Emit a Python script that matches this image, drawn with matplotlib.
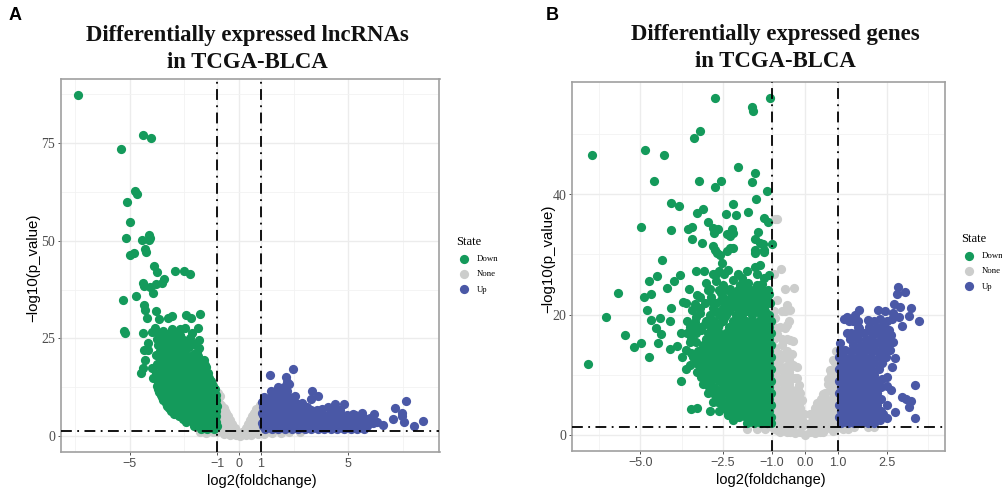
import matplotlib
matplotlib.use("Agg")
import matplotlib.pyplot as plt
from matplotlib.ticker import FixedLocator

GREEN, GREY, BLUE = "#149a5b", "#cccdcc", "#4a58a6"
state_labels = ["Down", "None", "Up"]

# ---------- Panel A: lncRNAs ----------
lnc_down_outliers = [(-7.35,87.2),(-4.37,77.0),(-4.02,76.3),(-5.37,73.4),(-4.73,62.7),(-4.67,61.9),(-5.1,59.9),(-4.98,54.9),
 (-5.16,50.8),(-4.1,51.4),(-4.44,50.2),(-4.13,50.2),(-4.07,50.8),(-4.28,48.0),(-5.0,46.3),(-4.78,46.8),(-4.26,47.2),
 (-3.88,43.6),(-3.76,41.9),(-2.92,42.2),(-2.5,42.2),(-2.22,41.6),(-3.41,40.3),(-3.5,39.1),(-3.81,38.9),(-4.37,39.1),
 (-4.32,38.4),(-4.06,38.2),(-3.94,36.7),(-4.69,35.9),(-5.28,34.9),(-4.32,33.5),(-4.31,32.2),(-3.77,32.1),(-4.2,30.1),
 (-3.65,29.9),(-3.23,30.1),(-3.04,30.8),(-2.42,30.9),(-2.18,30.2),(-1.8,31.3),(-5.27,27.0),(-5.2,26.4),(-1.86,27.6),
 (-2.45,27.6),(-2.69,27.3),(-3.04,27.3),(-3.46,26.9),(-3.84,27.6),(-3.96,26.7),(-4.38,26.3),(-1.81,24.6),(-2.62,24.1),
 (-3.04,24.6),(-4.17,23.7),(-1.83,22.4),(-1.92,21.6),(-2.47,22.0),(-4.35,22.0),(-4.14,22.0),(-4.31,19.4),(-1.61,19.5),
 (-2.19,19.9),(-4.37,17.3),(-4.49,16.1),(-3.96,17.3),(-3.93,14.8)]
lnc_down_fill = [(-2.4,20.8),(-2.05,21.0),(-2.3,22.8),(-2.05,23.6),(-2.25,25.2),(-2.15,26.4),(-2.7,25.9),(-3.05,22.6),(-3.4,23.6),(-2.4,24.4),
 (-2.1,18.6),(-1.9,17.0),(-2.35,17.8),(-3.6,19.5),(-3.8,20.8),(-3.75,18.4),(-3.8,16.0),(-3.45,21.0),(-2.65,22.8),(-3.3,25.6),(-2.0,19.8)]
lnc_down_rows = {
 1.7:[-1.75,-1.45,-1.15], 2.5:[-2.05,-1.8,-1.5,-1.2,-1.02], 3.6:[-2.4,-2.1,-1.8,-1.5,-1.2,-1.03],
 4.3:[-2.55,-2.25,-1.95,-1.65,-1.35,-1.1], 5.0:[-2.75,-2.45,-2.15,-1.85,-1.55,-1.25,-1.03],
 5.7:[-2.95,-2.6,-2.3,-2.0,-1.7,-1.4,-1.15], 6.4:[-3.1,-2.8,-2.5,-2.2,-1.9,-1.6,-1.3,-1.05],
 7.1:[-3.2,-2.9,-2.6,-2.3,-2.0,-1.7,-1.4,-1.1], 7.8:[-3.3,-3.0,-2.7,-2.4,-2.1,-1.8,-1.5,-1.2,-1.02],
 8.5:[-3.35,-3.05,-2.8,-2.5,-2.2,-1.9,-1.6,-1.3,-1.08], 9.2:[-3.45,-3.15,-2.85,-2.55,-2.25,-1.95,-1.65,-1.35,-1.05],
 9.9:[-3.5,-3.2,-2.95,-2.65,-2.35,-2.05,-1.75,-1.45,-1.15], 10.6:[-3.55,-3.3,-3.0,-2.7,-2.4,-2.1,-1.8,-1.5,-1.2,-1.03],
 11.3:[-3.65,-3.35,-3.05,-2.75,-2.45,-2.15,-1.85,-1.55,-1.25], 12.0:[-3.7,-3.4,-3.1,-2.8,-2.5,-2.2,-1.9,-1.6,-1.3,-1.1],
 12.7:[-3.75,-3.5,-3.2,-2.95,-2.65,-2.35,-2.05,-1.8,-1.5,-1.2], 13.4:[-3.7,-3.45,-3.15,-2.85,-2.6,-2.3,-2.0,-1.7,-1.4,-1.25],
 14.1:[-3.65,-3.35,-3.05,-2.75,-2.5,-2.2,-1.9,-1.6,-1.3], 14.8:[-3.6,-3.3,-3.0,-2.7,-2.4,-2.15,-1.8,-1.5,-1.35],
 15.5:[-3.55,-3.25,-2.95,-2.65,-2.35,-2.05,-1.7,-1.45], 16.2:[-3.5,-3.2,-2.95,-2.6,-2.3,-1.95,-1.6,-1.4],
 16.9:[-3.4,-3.1,-2.8,-2.5,-2.2,-1.85], 17.6:[-3.55,-3.2,-2.9,-2.65,-2.1,-1.75,-1.5],
 18.3:[-3.45,-3.15,-2.75,-2.25,-1.9,-1.55], 19.0:[-3.4,-3.1,-2.8,-2.4,-2.05,-1.65],
 20.4:[-3.5,-3.25,-2.95,-2.6,-2.2,-1.85], 21.8:[-3.6,-3.3,-3.0,-2.7],
 23.2:[-3.7,-3.4,-3.1,-2.85,-2.55], 24.8:[-3.75,-3.5,-3.2,-2.95,-2.6], 26.0:[-3.65,-3.3,-2.9]}
lnc_none = [(-0.94,11.0),(-0.85,10.2),(-0.9,8.5),(-0.7,7.2),(-0.85,7.0),(-0.6,6.0),(-0.85,5.5),(-0.5,5.0),(-0.75,4.5),(-0.4,4.0),
 (-0.6,3.5),(-0.85,3.2),(-0.3,3.0),(-0.5,2.5),(-0.75,2.2),(-0.2,2.0),(-0.35,1.6),(-0.6,1.4),(-0.9,1.3),(-1.2,1.0),(-1.5,0.8),(-1.8,1.0),
 (-1.0,0.9),(-0.7,0.5),(-0.4,0.3),(-0.15,0.2),(0.05,0.1),(0.3,0.2),(0.55,0.3),(0.85,0.5),(1.15,0.6),(1.5,0.7),(1.9,0.8),(2.3,0.9),(2.8,0.9),
 (0.15,1.0),(0.3,2.0),(0.4,3.0),(0.5,4.0),(0.6,5.0),(0.7,6.0),(0.8,7.0),(0.95,8.0),(0.55,2.5),(0.75,3.5),(0.9,5.0),(0.9,6.5),(0.8,2.0),(0.95,3.0),(0.6,1.4),(0.95,1.5),
 (-0.1,0.8),(0.1,0.6),(-0.3,0.9),(0.35,0.8),(0.65,0.9),(-0.65,6.5),(-0.8,8.0),(-0.55,4.5),(0.7,4.5),(0.85,4.0)]
lnc_up_outliers = [(1.43,15.6),(2.15,15.1),(2.48,17.2),(2.2,13.7),(2.3,13.4),(3.32,11.5),(3.62,10.2),(3.27,9.4),(2.56,10.2),(2.9,8.5),
 (3.8,7.0),(4.08,7.5),(4.38,8.2),(4.81,8.2),(4.61,6.7),(5.19,5.6),(5.63,5.8),(6.16,5.6),(6.56,2.8),(6.29,3.7),(7.61,9.0),(7.15,7.2),
 (7.43,5.8),(7.46,5.2),(7.05,4.4),(7.53,3.5),(8.39,3.9),(7.99,2.5)]
lnc_up_rows = {
 1.8:[1.2,1.5,1.8,2.1,2.4,2.7,3.0,3.3,3.6,3.9,4.2,4.5,4.8,5.1,5.4,5.7],
 2.5:[1.1,1.4,1.7,2.0,2.3,2.6,2.9,3.2,3.5,3.8,4.1,4.4,4.7,5.0,5.3,5.6,5.85],
 3.2:[1.05,1.35,1.65,1.95,2.25,2.55,2.85,3.15,3.45,3.75,4.05,4.35,4.65,4.95,5.25,5.55,5.85,6.1],
 3.9:[1.2,1.5,1.8,2.1,2.4,2.7,3.0,3.3,3.6,3.9,4.2,4.5,4.8,5.1,5.4,5.7,6.0],
 4.6:[1.2,1.5,1.8,2.1,2.4,2.7,3.0,3.3,3.6,3.9,4.2,4.5,4.8,5.1,5.4,5.7,6.0],
 5.3:[1.1,1.4,1.7,2.0,2.3,2.6,2.9,3.2,3.5,3.8,4.1,4.35,4.65,4.95,5.3],
 6.0:[1.05,1.35,1.65,1.95,2.25,2.55,2.85,3.15,3.45,4.15,4.4],
 6.7:[1.2,1.5,1.8,2.1,2.4,2.7,3.0,3.3,3.55,4.25,4.5],
 7.4:[1.1,1.4,1.7,2.0,2.3,2.6,2.9,3.1],
 8.1:[1.2,1.5,1.8,2.1,2.4,2.7],
 8.8:[1.05,1.35,1.65,1.95,2.25,2.5],
 10.0:[1.15,1.45,1.75,2.05,2.3],
 11.4:[1.45,1.7,1.95,2.2],
 12.6:[1.8,2.05]}

# ---------- Panel B: genes ----------
gene_down_outliers = [(-2.72,56.0),(-1.05,56.0),(-1.62,54.5),(-1.58,53.9),(-3.19,50.6),(-3.36,49.4),(-4.87,47.4),(-6.47,46.6),(-4.29,46.5),
 (-2.04,44.6),(-1.52,43.5),(-4.58,42.2),(-3.21,42.2),(-2.54,42.2),(-2.74,41.3),(-1.62,42.1),(-1.14,40.5),(-1.5,39.2),(-4.06,38.6),
 (-3.83,38.1),(-2.18,38.4),(-3.09,37.6),(-3.29,36.9),(-2.39,36.8),(-2.1,36.5),(-1.73,37.1),(-1.24,36.0),(-1.11,35.4),(-4.99,34.6),
 (-4.06,34.1),(-3.55,34.3),(-3.43,34.6),(-2.96,35.4),(-2.79,34.4),(-2.65,34.3),(-2.76,33.5),(-2.23,34.3),(-2.38,33.4),(-2.2,33.5),
 (-2.27,33.0),(-1.42,33.8),(-3.43,32.6),(-3.14,31.9),(-2.79,31.4),(-1.53,32.6),(-1.37,31.9),(-1.27,31.7),(-1.01,31.8),(-2.28,31.0),
 (-2.2,31.1),(-2.74,30.7),(-1.52,30.7),(-1.25,30.8),(-2.68,30.2),(-2.58,29.9),(-2.36,30.6),(-2.53,28.6),(-4.34,29.0),(-1.52,30.3),(-1.25,30.4),
 (-1.52,27.9),(-1.37,28.2),(-1.77,27.2),(-2.33,27.4),(-2.46,26.7),(-2.79,26.8),(-2.71,26.8),(-3.06,27.2),(-3.31,27.2),(-3.79,26.6),
 (-4.51,26.4),(-4.74,25.6),(-3.97,25.6),(-4.2,24.4),(-3.53,24.3),(-5.67,23.6),(-4.9,22.9),(-4.67,23.5),(-1.92,26.1),(-1.47,26.7),(-1.08,26.6),
 (-3.27,23.2),(-2.89,24.3),(-2.48,24.9),(-2.28,24.3),(-1.98,24.9),(-1.72,25.3),(-1.47,24.9),(-1.11,24.1),(-1.17,22.7),(-3.7,22.1),(-3.62,21.9),
 (-4.06,21.1),(-4.79,20.8),(-3.44,20.7),(-6.05,19.6),(-4.4,19.5),(-4.69,19.1),(-4.09,18.9),(-4.52,17.7),(-4.39,16.7),(-5.47,16.6),(-4.97,15.3),
 (-4.46,15.2),(-5.2,14.6),(-4.09,14.3),(-3.88,14.7),(-4.74,12.9),(-6.59,11.7),(-3.78,8.9),(-3.47,4.2),(-3.29,4.4),(-2.89,3.9),(-3.78,16.9),
 (-3.6,18.9),(-3.34,18.8),(-3.19,20.2),(-3.75,12.9),(-3.62,14.1),(-3.62,11.0),(-3.49,11.6),(-3.29,10.4),(-3.09,8.5),(-2.91,7.9),(-2.79,5.4),
 (-2.74,6.6),(-2.48,4.6),(-2.33,3.2),(-2.18,2.4)]
gene_down_fill = [(-2.95,9.5),(-2.75,9.5),(-3.05,10.5),(-2.85,10.5),(-2.65,10.5),(-3.15,11.5),(-2.95,11.5),(-2.75,11.5),(-3.2,12.5),(-2.85,12.5),(-2.65,12.5),
 (-3.25,13.5),(-2.95,13.5),(-2.75,13.5),(-3.1,14.5),(-2.85,14.5),(-2.65,14.5),(-3.3,15.5),(-2.95,15.5),(-2.75,15.5),(-2.85,16.5),(-2.65,16.5),(-3.15,17.5),(-2.8,17.5),
 (-2.6,18.5),(-2.85,19.0),(-2.45,19.5),(-2.7,20.5),(-2.3,20.5),(-2.0,20.5),(-1.75,20.5),(-1.45,20.5),(-1.2,20.5),(-2.4,21.5),(-2.1,21.5),(-1.9,21.5),(-1.6,21.5),(-1.35,21.5),
 (-2.55,22.5),(-2.3,22.5),(-2.0,22.5),(-1.75,22.5),(-1.45,22.5),(-1.2,22.5),(-2.1,23.5),(-1.85,23.5),(-1.6,23.5),(-1.35,23.5),(-1.1,23.5),(-2.7,7.5),(-2.55,7.5),(-2.6,6.5),
 (-2.65,5.5),(-2.5,4.5),(-2.35,3.5),(-3.0,25.2),(-2.7,25.5),(-2.2,25.8),(-2.05,26.7),(-1.7,24.2),(-1.85,24.8),(-2.55,23.6),(-2.85,22.2),(-3.35,21.8),(-3.45,18.0),(-3.3,17.4),
 (-3.5,15.5),(-3.45,13.6),(-3.35,12.8),(-3.2,11.0),(-3.45,16.9),(-3.15,9.6),(-3.0,8.6),(-1.25,26.0),(-1.3,25.0),(-2.95,6.9),(-2.6,3.9),(-3.3,19.6),(-3.05,18.5),(-2.6,27.3)]
gene_down_rows = {
 2:[-1.75,-1.55,-1.35,-1.15,-1.02], 3:[-2.2,-2.0,-1.8,-1.6,-1.4,-1.2,-1.03], 4:[-2.35,-2.12,-1.92,-1.7,-1.5,-1.3,-1.1],
 5:[-2.4,-2.2,-2.0,-1.8,-1.6,-1.4,-1.2,-1.03], 6:[-2.55,-2.3,-2.1,-1.9,-1.7,-1.5,-1.3,-1.1],
 7:[-2.7,-2.4,-2.2,-2.0,-1.8,-1.6,-1.4,-1.2,-1.03], 8:[-2.75,-2.5,-2.3,-2.1,-1.9,-1.7,-1.5,-1.3,-1.1],
 9:[-2.9,-2.62,-2.4,-2.2,-2.0,-1.8,-1.6,-1.4,-1.2,-1.03], 10:[-3.0,-2.75,-2.5,-2.3,-2.1,-1.9,-1.7,-1.5,-1.3,-1.1],
 11:[-3.1,-2.85,-2.6,-2.4,-2.2,-2.0,-1.8,-1.6,-1.4,-1.2,-1.03], 12:[-3.3,-3.0,-2.7,-2.5,-2.3,-2.1,-1.9,-1.7,-1.5,-1.3,-1.1],
 13:[-3.4,-3.1,-2.85,-2.6,-2.4,-2.2,-2.0,-1.8,-1.6,-1.4,-1.2,-1.03], 14:[-3.25,-2.95,-2.7,-2.5,-2.3,-2.1,-1.9,-1.7,-1.5,-1.3,-1.1],
 15:[-3.1,-2.85,-2.6,-2.4,-2.2,-2.0,-1.8,-1.6,-1.4,-1.2,-1.03], 16:[-3.45,-3.0,-2.7,-2.5,-2.3,-2.1,-1.9,-1.7,-1.5,-1.3,-1.1],
 17:[-3.6,-3.3,-2.95,-2.6,-2.4,-2.2,-2.0,-1.8,-1.6,-1.4,-1.2,-1.03], 18:[-3.5,-3.15,-2.85,-2.65,-2.3,-2.1,-1.9,-1.7,-1.5,-1.3,-1.1],
 19:[-3.0,-2.75,-2.5,-2.2,-2.0,-1.8,-1.6,-1.4,-1.2,-1.03], 20:[-2.9,-2.6,-2.4,-2.1,-1.9,-1.6,-1.35,-1.1],
 21:[-3.2,-2.8,-2.5,-2.25,-2.0,-1.75,-1.5,-1.25], 22:[-3.05,-2.7,-2.4,-2.15,-1.85,-1.6,-1.3,-1.05],
 23:[-3.2,-2.85,-2.5,-2.25,-1.95,-1.7,-1.4,-1.15], 24:[-2.95,-2.6,-2.35,-2.05,-1.55,-1.3]}
gene_none = [(-0.91,35.9),(-0.86,35.9),(-0.94,26.7),(-0.74,27.6),(-0.61,24.2),(-0.33,24.4),(-0.86,22.4),(-0.54,21.6),(-0.46,20.8),(-0.86,16.8),
 (-0.61,17.7),(-0.46,15.7),(-0.35,15.6),(-0.56,14.0),(-0.35,11.6),(-0.25,11.3),(-0.18,8.3),(-0.1,5.7),(-0.03,3.5),(-0.48,18.9),(-0.55,18.2),
 (-0.9,19.5),(-0.9,14.5),(-0.7,15.0),(-0.9,12.5),(-0.7,12.8),(-0.5,12.5),(-0.9,10.5),(-0.7,10.8),(-0.5,10.5),(-0.3,9.5),(-0.9,8.5),(-0.7,8.8),(-0.5,8.5),
 (-0.9,6.5),(-0.7,6.5),(-0.5,6.5),(-0.3,6.5),(-0.15,7.0),(-0.9,4.5),(-0.7,4.5),(-0.5,4.5),(-0.3,4.5),(-0.15,4.5),(-0.9,2.8),(-0.7,2.8),(-0.5,2.8),(-0.3,2.8),
 (-0.1,2.5),(-1.1,1.4),(-0.85,1.4),(-0.6,1.4),(-0.35,1.4),(-0.1,1.4),(-0.85,0.8),(-0.55,0.5),(-0.3,0.3),(0.0,0.0),(0.3,0.2),(0.55,0.4),(0.85,0.6),(1.15,1.0),
 (1.5,1.2),(1.9,1.2),(2.1,1.2),(-1.75,1.0),(0.94,14.0),(0.86,12.4),(0.76,10.7),(0.71,9.3),(0.56,6.8),(0.35,5.2),(0.15,3.5),(0.05,1.8),(0.95,11.0),(0.85,9.0),
 (0.95,8.0),(0.75,7.5),(0.95,6.0),(0.75,5.5),(0.55,5.0),(0.95,4.0),(0.75,3.8),(0.55,3.5),(0.35,3.4),(0.95,2.5),(0.75,2.2),(0.55,2.0),(0.3,2.0),(0.95,1.2),(0.7,1.2),(0.45,1.2),(0.2,1.1)]
gene_none_rows = {
 0.4:[-0.75,-0.45,-0.15,0.15,0.45], 0.9:[-1.45,-1.2,-0.95,-0.65,-0.4,0.3,0.6,0.9,1.3], 2.0:[-0.95,-0.75,-0.55,-0.35,-0.15,0.15,0.45,0.65,0.85],
 3.0:[0.25,0.45,0.65,0.85], 3.6:[-0.95,-0.75,-0.55,-0.35,-0.12], 4.5:[0.3,0.45,0.65,0.85], 5.5:[-0.95,-0.75,-0.55,-0.35,-0.15], 6.0:[0.5,0.65,0.85],
 7.0:[0.6,0.85], 7.5:[-0.95,-0.8,-0.6,-0.4,-0.2], 8.5:[0.7,0.9], 9.5:[-0.95,-0.8,-0.6,-0.4,-0.25], 10.0:[0.8,0.95], 11.5:[-0.95,-0.75,-0.55,-0.4],
 12.0:[0.9], 13.5:[-0.95,-0.75,-0.6,-0.4], 16.0:[-0.95,-0.7,-0.55], 18.0:[-0.95,-0.75], 20.5:[-0.95,-0.7,-0.6]}
gene_up_outliers = [(3.47,18.9),(3.23,21.0),(3.15,19.8),(2.95,18.1),(2.89,21.2),(2.7,21.8),(2.82,24.6),(2.81,23.5),(3.05,23.7),(2.21,20.7),
 (2.43,20.6),(2.68,20.2),(2.87,19.6),(2.63,19.3),(2.28,19.3),(1.91,19.1),(1.65,20.8),(1.52,19.9),(1.27,19.6),(1.2,19.2),(1.47,18.9),(2.66,15.4),
 (2.58,14.1),(2.74,12.8),(2.63,11.3),(2.48,9.6),(2.33,9.3),(2.48,8.1),(2.6,7.5),(3.35,8.3),(2.96,6.2),(3.07,5.9),(3.22,5.6),(3.17,4.6),(3.34,2.8),
 (2.73,3.8),(2.5,4.9),(2.48,2.7),(2.28,2.4),(2.38,3.5),(1.29,17.0),(1.65,17.7),(1.06,15.3),(1.22,14.1),(1.06,14.1),(1.37,16.0),(1.57,16.3),(1.87,15.7),
 (2.2,18.0),(2.4,18.3),(2.55,17.4),(2.6,16.6),(2.0,17.2),(2.15,16.9),(2.35,16.9),(2.4,15.7),(2.25,15.5)]
gene_up_rows = {
 2:[1.1,1.3,1.5,1.7,1.9,2.1], 3:[1.03,1.2,1.4,1.6,1.8,2.0,2.2], 4:[1.1,1.3,1.5,1.7,1.9,2.1,2.3], 5:[1.03,1.2,1.4,1.6,1.8,2.0,2.2],
 6:[1.1,1.3,1.5,1.7,1.9,2.1,2.3], 7:[1.03,1.2,1.4,1.6,1.8,2.0,2.2], 8:[1.1,1.3,1.5,1.7,1.9,2.1,2.3], 9:[1.03,1.2,1.4,1.6,1.8,2.0,2.2],
 10:[1.1,1.3,1.5,1.7,1.9,2.1], 11:[1.03,1.2,1.4,1.6,1.8,2.0,2.25], 12:[1.1,1.3,1.5,1.7,1.9,2.1,2.35], 13:[1.03,1.2,1.4,1.6,1.8,2.0,2.25,2.45],
 14:[1.4,1.6,1.8,2.0,2.2,2.4], 15:[1.45,1.7,1.9,2.1,2.35,2.5], 16:[1.6,1.85,2.05,2.3,2.5], 17:[1.4,1.55,1.8,2.05,2.25,2.45], 18:[1.6,1.95,2.35], 19:[1.35,1.6,2.1,2.5]}


def row_points(rows):
    return [(x, y) for y, xs in rows.items() for x in xs]


def panel(rect, xlim, ylim, xmaj, xlab, xmin, ymaj, ymin, none, down, up, legend_xy, xl_pos, yl_pos):
    W, H = 1003, 494
    l, t, r, b = rect
    ax = fig.add_axes([l / W, 1 - b / H, (r - l) / W, (b - t) / H])
    ax.set_xlim(xlim); ax.set_ylim(ylim)
    ax.xaxis.set_major_locator(FixedLocator(xmaj)); ax.set_xticklabels(xlab, family="Liberation Sans", fontsize=9, color="#4d4d4d")
    ax.yaxis.set_major_locator(FixedLocator(ymaj))
    ax.set_yticklabels([str(v) for v in ymaj], family="Liberation Serif", fontsize=10, color="#4d4d4d")
    ax.xaxis.set_minor_locator(FixedLocator(xmin)); ax.yaxis.set_minor_locator(FixedLocator(ymin))
    ax.grid(which="major", color="#ececec", lw=1.0); ax.grid(which="minor", color="#f2f2f2", lw=0.6)
    ax.set_axisbelow(True)
    ax.tick_params(which="minor", length=0)
    ax.tick_params(which="major", length=2.2, width=0.7, color="#555555", pad=2)
    for s in ax.spines.values():
        s.set_color("#a0a0a0"); s.set_linewidth(1.2)
    ms = 44
    h = {}
    for name, pts, c in [("None", none, GREY), ("Down", down, GREEN), ("Up", up, BLUE)]:
        xs, ys = zip(*pts)
        h[name] = ax.scatter(xs, ys, s=ms, c=c, linewidths=0, zorder=2, label=name)
    dash = (0, (6, 3, 1, 3))
    for v in (-1, 1):
        ax.axvline(v, color="black", lw=1.3, ls=dash, zorder=3)
    ax.axhline(1.3, color="black", lw=1.3, ls=dash, zorder=3)
    ax.set_xlabel("log2(foldchange)", family="Liberation Sans", fontsize=10.5, va="center", ha="center")
    ax.set_ylabel("\u2212log10(p_value)", family="Liberation Sans", fontsize=10.8, va="center", ha="center")
    ax.xaxis.set_label_coords(*xl_pos); ax.yaxis.set_label_coords(*yl_pos)
    leg = ax.legend([h[k] for k in state_labels], state_labels, title="State", loc="upper left",
                    bbox_to_anchor=(legend_xy[0] / W, 1 - legend_xy[1] / H), bbox_transform=fig.transFigure,
                    frameon=False, alignment="left", prop={"family": "Liberation Serif", "size": 6.3},
                    labelspacing=0.81, handletextpad=0.55, borderpad=0, borderaxespad=0, handlelength=1.83)
    leg.get_title().set_family("Liberation Serif"); leg.get_title().set_fontsize(9)
    return ax


fig = plt.figure(figsize=(10.03, 4.94), dpi=100)
panel((61, 79, 439.5, 452), (-8.13, 9.16), (-4.1, 91.4), [-5, -1, 0, 1, 5], ["\u22125", "\u22121", "0", "1", "5"],
      [-7.5, -2.5, 2.5, 7.5], [0, 25, 50, 75], [12.5, 37.5, 62.5, 87.5],
      lnc_none, lnc_down_outliers + lnc_down_fill + row_points(lnc_down_rows), lnc_up_outliers + row_points(lnc_up_rows), (456, 236),
      (0.531, -0.077), (-0.074, 0.493))
panel((572, 82, 945.5, 451), (-7.08, 4.27), (-2.75, 58.75), [-5, -2.5, -1, 0, 1, 2.5],
      ["\u22125.0", "\u22122.5", "\u22121.0", "0.0", "1.0", "2.5"],
      [-6.25, -3.75, 3.75], [0, 20, 40], [10, 30, 50],
      gene_none + row_points(gene_none_rows), gene_down_outliers + gene_down_fill + row_points(gene_down_rows),
      gene_up_outliers + row_points(gene_up_rows), (961, 233), (0.533, -0.079), (-0.064, 0.522))

for txt, x, y in [("Differentially expressed lncRNAs\nin TCGA-BLCA", 247, 49), ("Differentially expressed genes\nin TCGA-BLCA", 775, 48)]:
    fig.text(x / 1003, 1 - y / 494, txt, ha="center", va="center", family="Liberation Serif", weight="bold", fontsize=16.4, linespacing=1.38, color="#111111")
fig.text(9 / 1003, 1 - 16 / 494, "A", ha="left", va="center", family="Liberation Sans", weight="bold", fontsize=13)
fig.text(546 / 1003, 1 - 16 / 494, "B", ha="left", va="center", family="Liberation Sans", weight="bold", fontsize=13)
fig.savefig("out.png", dpi=100)
